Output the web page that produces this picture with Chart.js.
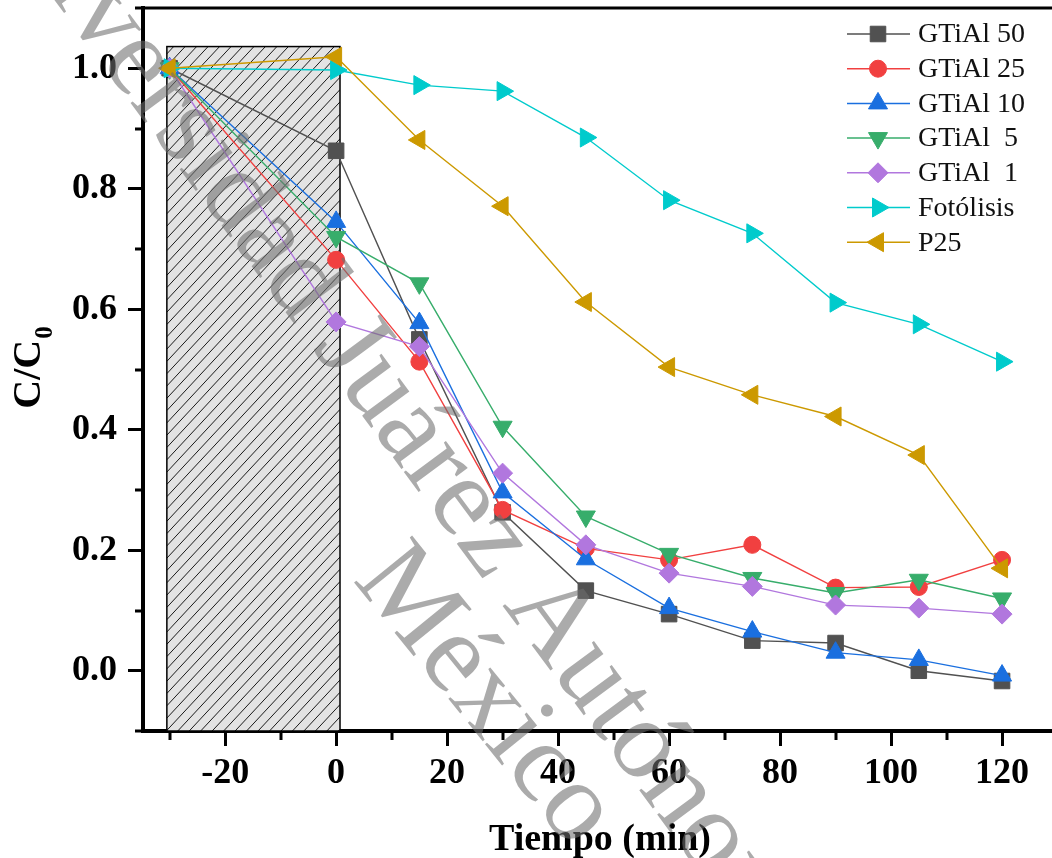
<!DOCTYPE html>
<html>
<head>
<meta charset="utf-8">
<script src="https://cdn.jsdelivr.net/npm/chart.js@4.4.0/dist/chart.umd.min.js"></script>
<style>
html,body{margin:0;padding:0;background:#fff;overflow:hidden}
canvas{display:block}
</style>
</head>
<body>
<canvas id="c" width="1052" height="858"></canvas>
<script>
// ---- data ----
const time = [-30, 0, 15, 30, 45, 60, 75, 90, 105, 120];
const seriesNames = ['GTiAl 50', 'GTiAl 25', 'GTiAl 10', 'GTiAl  5', 'GTiAl  1', 'Fotólisis', 'P25'];
const gtial50   = [1.000, 0.863, 0.550, 0.263, 0.133, 0.094, 0.050, 0.046, 0.000, -0.017];
const gtial25   = [1.000, 0.682, 0.513, 0.267, 0.203, 0.184, 0.209, 0.138, 0.139, 0.184];
const gtial10   = [1.000, 0.745, 0.577, 0.296, 0.185, 0.104, 0.065, 0.030, 0.018, -0.008];
const gtial5    = [1.000, 0.720, 0.643, 0.405, 0.256, 0.194, 0.154, 0.129, 0.151, 0.120];
const gtial1    = [1.000, 0.579, 0.538, 0.328, 0.209, 0.162, 0.140, 0.109, 0.104, 0.094];
const fotolisis = [1.000, 0.997, 0.972, 0.962, 0.885, 0.781, 0.726, 0.611, 0.575, 0.513];
const p25       = [1.000, 1.019, 0.881, 0.771, 0.612, 0.504, 0.458, 0.422, 0.358, 0.170];
const seriesValues = [gtial50, gtial25, gtial10, gtial5, gtial1, fotolisis, p25];

const xTickValues = [-20, 0, 20, 40, 60, 80, 100, 120];
const xMinorTicks = [-30, -10, 10, 30, 50, 70, 90, 110];
const yTickValues = [0.0, 0.2, 0.4, 0.6, 0.8, 1.0];
const yMinorTicks = [-0.1, 0.1, 0.3, 0.5, 0.7, 0.9, 1.1];
const darkStart = -30.5, darkEnd = 0.7, darkTop = 1.036;   // shaded dark-adsorption period
const xTitle = 'Tiempo (min)';
const yTitleMain = 'C/C', yTitleSub = '0';

// ---- styles ----
const styles = [
  {color: '#515151', point: 'rect',     radius: 11,  rotation: 0},
  {color: '#F14040', point: 'circle',   radius: 8.5, rotation: 0},
  {color: '#1A6FDF', point: 'triangle', radius: 11,  rotation: 0},
  {color: '#37AD6B', point: 'triangle', radius: 11,  rotation: 180},
  {color: '#B177DE', point: 'rectRot',  radius: 10,  rotation: 0},
  {color: '#00CBCC', point: 'triangle', radius: 11,  rotation: 90},
  {color: '#CC9900', point: 'triangle', radius: 11,  rotation: 270}
];
const SERIF = '"Liberation Serif", "Times New Roman", serif';
const TARGET = {left: 143, right: 1052, top: 8, bottom: 731};

const datasets = seriesNames.map((name, i) => ({
  label: name,
  data: time.map((t, k) => ({x: t, y: seriesValues[i][k]})),
  borderColor: styles[i].color,
  backgroundColor: styles[i].color,
  borderWidth: 1.4,
  pointStyle: styles[i].point,
  pointRadius: styles[i].radius,
  pointRotation: styles[i].rotation,
  pointBackgroundColor: styles[i].color,
  pointBorderColor: styles[i].color,
  pointBorderWidth: 1,
  tension: 0,
  fill: false,
  clip: false,
  order: 20 - i
}));

function drawMarker(ctx, style, radius, rotation, x, y) {
  const rad = rotation * Math.PI / 180;
  ctx.beginPath();
  if (style === 'circle') {
    ctx.arc(x, y, radius, 0, Math.PI * 2);
  } else if (style === 'rect') {
    const s = Math.SQRT1_2 * radius;
    ctx.rect(x - s, y - s, 2 * s, 2 * s);
  } else if (style === 'rectRot') {
    ctx.moveTo(x, y - radius); ctx.lineTo(x + radius, y);
    ctx.lineTo(x, y + radius); ctx.lineTo(x - radius, y);
  } else if (style === 'triangle') {
    let a = rad;
    ctx.moveTo(x + Math.sin(a) * radius, y - Math.cos(a) * radius);
    a += 2 * Math.PI / 3;
    ctx.lineTo(x + Math.sin(a) * radius, y - Math.cos(a) * radius);
    a += 2 * Math.PI / 3;
    ctx.lineTo(x + Math.sin(a) * radius, y - Math.cos(a) * radius);
  }
  ctx.closePath();
  ctx.fill();
  ctx.stroke();
}

const decorPlugin = {
  id: 'decor',
  beforeDatasetsDraw(chart) {
    const {ctx, chartArea, scales} = chart;
    const xl = scales.x.getPixelForValue(darkStart);
    const xr = scales.x.getPixelForValue(darkEnd);
    const yt = scales.y.getPixelForValue(darkTop);
    const yb = chartArea.bottom;
    ctx.save();
    ctx.fillStyle = '#e3e3e3';
    ctx.fillRect(xl, yt, xr - xl, yb - yt);
    ctx.beginPath();
    ctx.rect(xl, yt, xr - xl, yb - yt);
    ctx.clip();
    ctx.strokeStyle = '#1a1a1a';
    ctx.lineWidth = 1;
    const slope = Math.tan(47 * Math.PI / 180);
    const sp = 12.3;
    const w = xr - xl;
    ctx.beginPath();
    for (let c = yt - 5; c < yb + w * slope + 20; c += sp) {
      ctx.moveTo(xl, c);
      ctx.lineTo(xr, c - slope * w);
    }
    ctx.stroke();
    ctx.restore();
    ctx.save();
    ctx.strokeStyle = '#000';
    ctx.lineWidth = 1.5;
    ctx.strokeRect(xl, yt, xr - xl, yb - yt);
    ctx.restore();
  },
  afterDatasetsDraw(chart) {
    const {ctx, chartArea, scales} = chart;
    ctx.save();
    // minor ticks
    ctx.strokeStyle = '#000';
    ctx.lineWidth = 3;
    ctx.beginPath();
    xMinorTicks.forEach(v => {
      const px = Math.round(scales.x.getPixelForValue(v));
      ctx.moveTo(px, chartArea.bottom);
      ctx.lineTo(px, chartArea.bottom + 9);
    });
    yMinorTicks.forEach(v => {
      const py = Math.round(scales.y.getPixelForValue(v));
      ctx.moveTo(chartArea.left - 8, py);
      ctx.lineTo(chartArea.left, py);
    });
    ctx.stroke();
    // top frame
    ctx.lineWidth = 3;
    ctx.beginPath();
    ctx.moveTo(chartArea.left - 2, chartArea.top);
    ctx.lineTo(chartArea.right, chartArea.top);
    ctx.stroke();

    // axis titles
    ctx.fillStyle = '#000';
    ctx.font = 'bold 38px ' + SERIF;
    ctx.textAlign = 'center';
    ctx.textBaseline = 'alphabetic';
    ctx.fillText(xTitle, 600, 850);

    ctx.save();
    ctx.translate(40, 368);
    ctx.rotate(-Math.PI / 2);
    ctx.font = 'bold 40px ' + SERIF;
    const wMain = ctx.measureText(yTitleMain).width;
    ctx.font = 'bold 25px ' + SERIF;
    const wSub = ctx.measureText(yTitleSub).width;
    const x0 = -(wMain + wSub) / 2;
    ctx.textAlign = 'left';
    ctx.font = 'bold 40px ' + SERIF;
    ctx.fillText(yTitleMain, x0, 0);
    ctx.font = 'bold 25px ' + SERIF;
    ctx.fillText(yTitleSub, x0 + wMain + 1, 12);
    ctx.restore();

    // legend
    const lx0 = 847, lx1 = 910, lm = 878, lt = 918, ly0 = 34, ldy = 34.7;
    chart.data.datasets.forEach((ds, i) => {
      const yy = ly0 + ldy * i;
      ctx.strokeStyle = ds.borderColor;
      ctx.lineWidth = 1.5;
      ctx.beginPath();
      ctx.moveTo(lx0, yy); ctx.lineTo(lx1, yy);
      ctx.stroke();
      ctx.fillStyle = ds.pointBackgroundColor;
      ctx.strokeStyle = ds.pointBorderColor;
      ctx.lineWidth = 1;
      drawMarker(ctx, ds.pointStyle, ds.pointRadius, ds.pointRotation, lm, yy);
      ctx.fillStyle = '#111';
      ctx.font = '28px ' + SERIF;
      ctx.textAlign = 'left';
      ctx.textBaseline = 'middle';
      ctx.fillText(ds.label, lt, yy + 1);
    });
    ctx.restore();
  },
  afterDraw(chart) {
    const {ctx} = chart;
    ctx.save();
    ctx.fillStyle = 'rgba(110,110,110,0.58)';
    ctx.font = '114px ' + SERIF;
    ctx.textBaseline = 'alphabetic';
    ctx.save();
    ctx.translate(312, 348);
    ctx.rotate(53.5 * Math.PI / 180);
    ctx.textAlign = 'right';
    ctx.fillText('Universidad ', 0, 0);
    ctx.textAlign = 'left';
    ctx.fillText('Juárez Autónoma de Tabasco', 0, 0);
    ctx.restore();
    ctx.save();
    ctx.translate(352, 580);
    ctx.rotate(51 * Math.PI / 180);
    ctx.textAlign = 'left';
    ctx.fillText('México', 0, 0);
    ctx.restore();
    ctx.restore();
  }
};

function zeroPad(s) {
  s.paddingTop = 0; s.paddingBottom = 0; s.paddingLeft = 0; s.paddingRight = 0;
}

const chart = new Chart(document.getElementById('c'), {
  type: 'line',
  data: {datasets},
  options: {
    responsive: false,
    animation: false,
    devicePixelRatio: 1,
    layout: {autoPadding: false, padding: {top: TARGET.top, right: 0, left: 0, bottom: 0}},
    plugins: {legend: {display: false}, tooltip: {enabled: false}},
    scales: {
      x: {
        type: 'linear',
        min: -34.8, max: 129,
        afterBuildTicks: s => { s.ticks = xTickValues.map(v => ({value: v})); },
        afterFit: s => { s.height = 858 - TARGET.bottom; zeroPad(s); },
        grid: {drawOnChartArea: false, drawTicks: true, tickLength: 15, tickWidth: 3, tickColor: '#000'},
        border: {display: true, width: 4, color: '#000'},
        ticks: {
          color: '#000', padding: 6, maxRotation: 0, autoSkip: false,
          font: {family: SERIF, weight: 'bold', size: 36},
          callback: v => String(v)
        }
      },
      y: {
        type: 'linear',
        min: -0.1, max: 1.1,
        afterBuildTicks: s => { s.ticks = yTickValues.map(v => ({value: v})); },
        afterFit: s => { s.width = TARGET.left; zeroPad(s); },
        grid: {drawOnChartArea: false, drawTicks: true, tickLength: 15, tickWidth: 3, tickColor: '#000'},
        border: {display: true, width: 4, color: '#000'},
        ticks: {
          color: '#000', padding: 11, autoSkip: false,
          font: {family: SERIF, weight: 'bold', size: 36},
          callback: v => Number(v).toFixed(1)
        }
      }
    }
  },
  plugins: [decorPlugin]
});
</script>
</body>
</html>
